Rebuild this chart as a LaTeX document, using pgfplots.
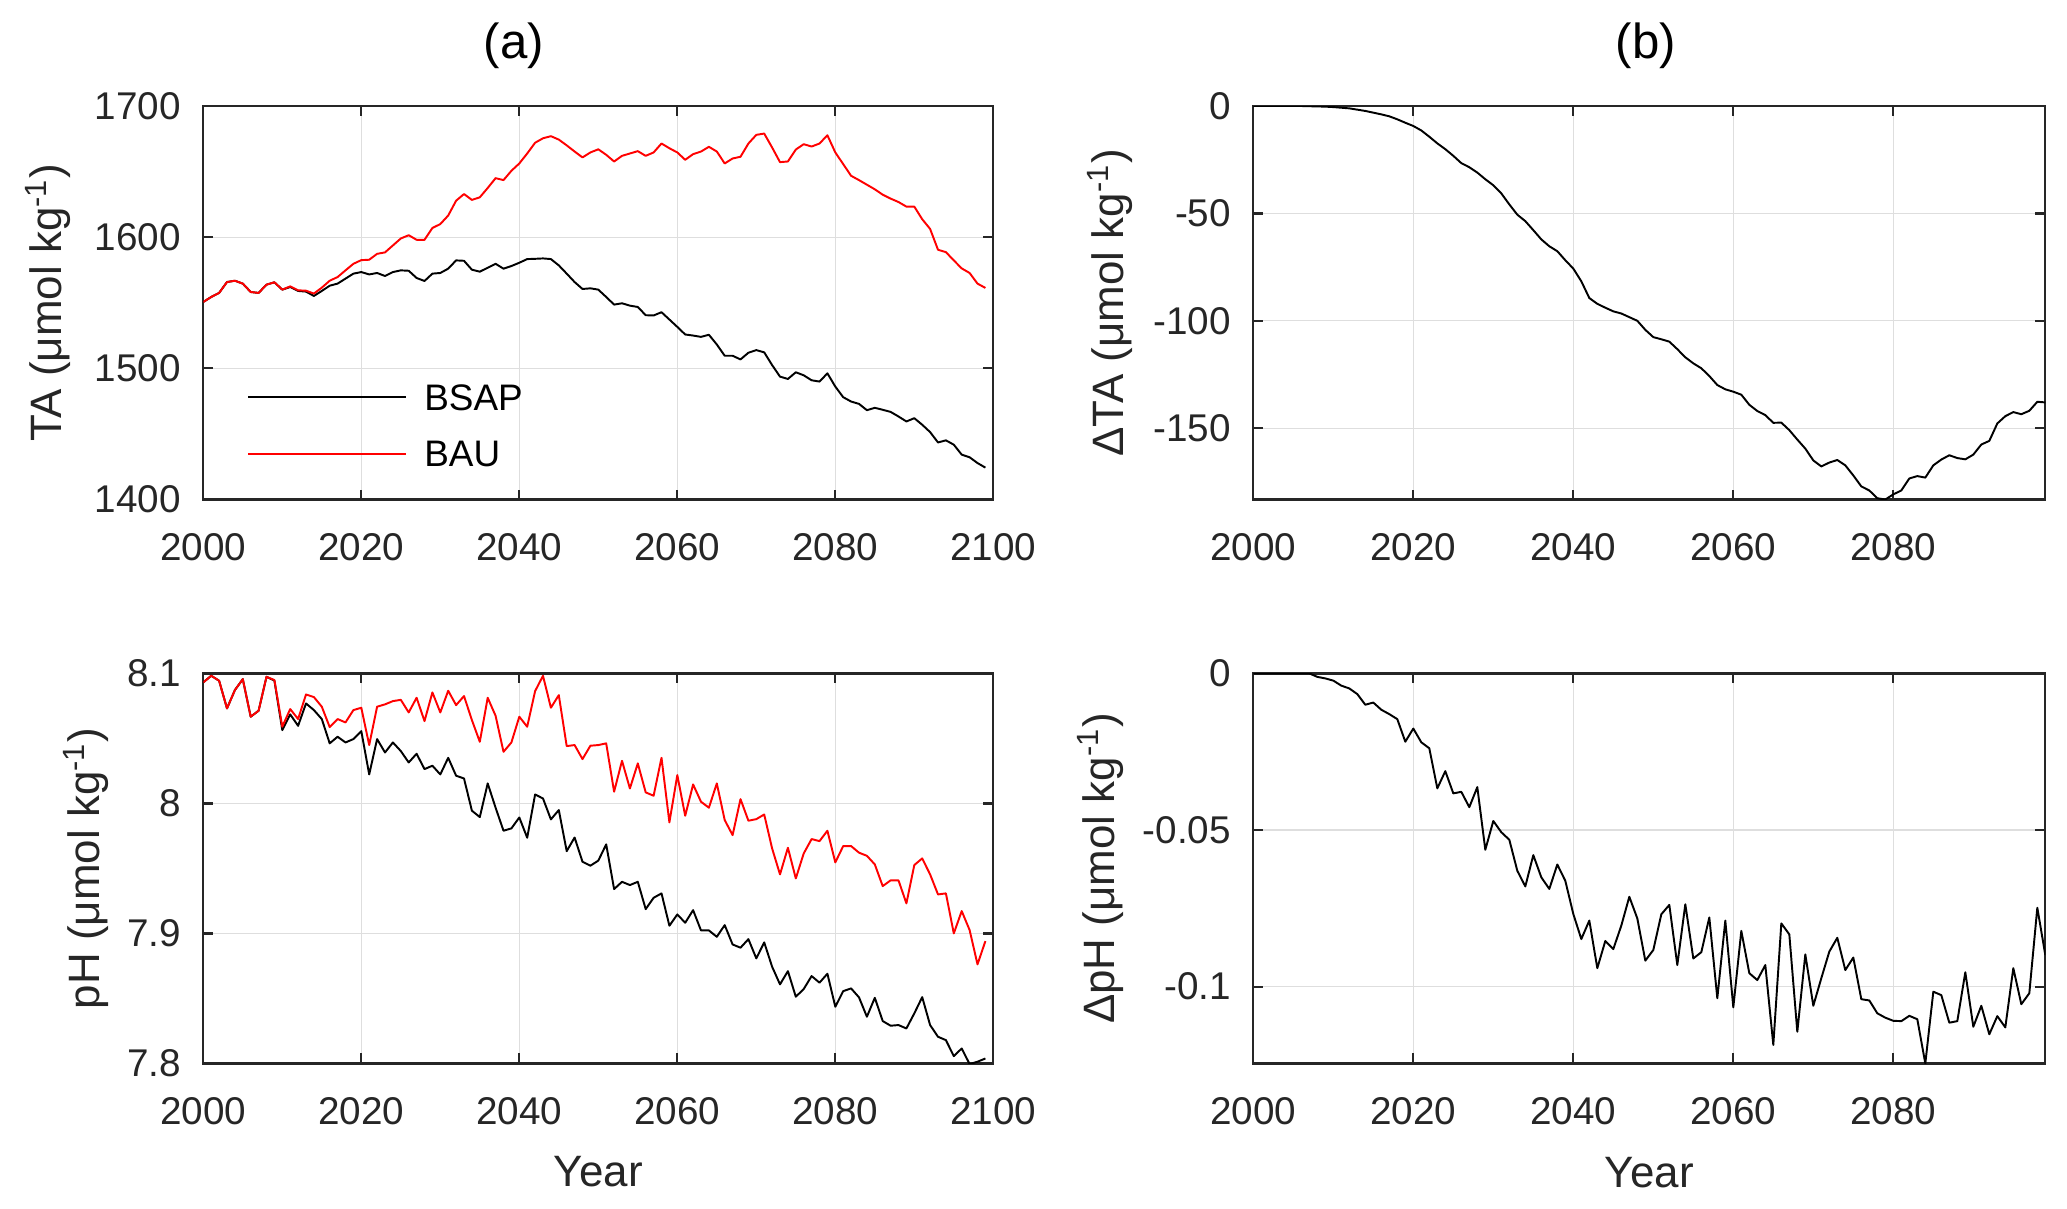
\documentclass[border=0pt]{standalone}
\usepackage{fontspec}
\setmainfont{Liberation Sans}
\usepackage{pgfplots}
\pgfplotsset{compat=1.18}

\definecolor{axgray}{RGB}{38,38,38}
\definecolor{gridgray}{RGB}{222,222,222}

\pgfplotsset{
  panel/.style={
    scale only axis,
    anchor=south west,
    xmin=2000,
    axis line style={axgray, line width=0.65pt},
    tick style={axgray, line width=0.65pt},
    major tick length=0.1cm,
    tick align=inside,
    grid=major,
    major grid style={gridgray, line width=0.35pt},
    tick label style={font=\fontsize{11}{13}\selectfont, color=axgray},
    label style={font=\fontsize{12.5}{15}\selectfont, color=axgray},
    xticklabel style={yshift=-0.215cm},
    yticklabel style={xshift=-0.1cm},
    title style={font=\fontsize{14}{17}\selectfont, anchor=base, yshift=-6pt},
    every axis plot/.append style={line width=0.55pt, line join=round},
  },
}

\begin{document}
\begin{tikzpicture}
\path[use as bounding box] (0,0) rectangle (20.67,12.08);

% (a) top: TA
\begin{axis}[panel, at={(2.033cm,7.085cm)}, width=7.90cm, height=3.935cm,
  xmax=2100, ymin=1400, ymax=1700,
  xtick={2000,2020,2040,2060,2080,2100},
  xticklabels={2000,2020,2040,2060,2080,2100},
  ytick={1400,1500,1600,1700},
  yticklabels={1400,1500,1600,1700},
  ylabel={TA (μmol kg\textsuperscript{-1})},
  ylabel style={at={(axis description cs:-0.1789,0.5)}, anchor=base},
  title={(a)},
  title style={at={(axis description cs:0.3933,1.1202)}},
  legend cell align=left,
  legend image code/.code={\draw[#1] (0cm,0cm) -- (1.58cm,0cm);},
  legend style={draw=none, fill=none, inner sep=0pt,
    at={(axis description cs:0.0549,0.296)}, anchor=north west,
    font=\fontsize{10.5}{12}\selectfont, row sep=0.302cm,
    nodes={inner sep=0pt, text height=0.264cm, text depth=0pt},
    /tikz/every odd column/.append style={column sep=0.17cm}},
]
\addplot[black] coordinates {
(2000,1550.6) (2001,1554.4) (2002,1557.5) (2003,1565.8) (2004,1566.8)
(2005,1564.6) (2006,1558.2) (2007,1557.5) (2008,1563.8) (2009,1565.6)
(2010,1560.0) (2011,1562.0) (2012,1559.0) (2013,1558.5) (2014,1555.2)
(2015,1559.0) (2016,1563.0) (2017,1564.6) (2018,1568.4) (2019,1572.2)
(2020,1573.4) (2021,1571.6) (2022,1572.7) (2023,1570.4) (2024,1573.4)
(2025,1574.7) (2026,1574.4) (2027,1568.9) (2028,1566.6) (2029,1572.2)
(2030,1572.7) (2031,1576.0) (2032,1582.3) (2033,1582.0) (2034,1575.2)
(2035,1573.7) (2036,1576.7) (2037,1579.7) (2038,1576.0) (2039,1578.0)
(2040,1580.5) (2041,1583.3) (2042,1583.5) (2043,1583.8) (2044,1583.3)
(2045,1578.5) (2046,1572.2) (2047,1565.8) (2048,1560.5) (2049,1561.0)
(2050,1560.0) (2051,1554.4) (2052,1548.6) (2053,1549.6) (2054,1547.8)
(2055,1546.8) (2056,1540.5) (2057,1540.3) (2058,1542.8) (2059,1537.2)
(2060,1531.6) (2061,1525.8) (2062,1525.0) (2063,1524.0) (2064,1525.6)
(2065,1518.2) (2066,1509.6) (2067,1509.6) (2068,1506.8) (2069,1511.9)
(2070,1513.9) (2071,1512.2) (2072,1502.5) (2073,1493.7) (2074,1491.9)
(2075,1497.0) (2076,1494.7) (2077,1490.9) (2078,1489.9) (2079,1496.2)
(2080,1486.1) (2081,1478.0) (2082,1474.7) (2083,1472.9) (2084,1468.1)
(2085,1469.9) (2086,1468.4) (2087,1466.8) (2088,1463.3) (2089,1459.5)
(2090,1462.0) (2091,1457.0) (2092,1451.4) (2093,1443.5) (2094,1445.1)
(2095,1441.8) (2096,1434.2) (2097,1432.2) (2098,1427.8) (2099,1424.3)
};
\addlegendentry{BSAP}
\addplot[red] coordinates {
(2000,1550.6) (2001,1554.4) (2002,1557.5) (2003,1565.8) (2004,1566.8)
(2005,1564.6) (2006,1558.2) (2007,1557.5) (2008,1563.8) (2009,1565.6)
(2010,1560.0) (2011,1562.5) (2012,1559.5) (2013,1559.2) (2014,1557.0)
(2015,1561.5) (2016,1566.8) (2017,1569.6) (2018,1574.7) (2019,1579.7)
(2020,1582.5) (2021,1582.8) (2022,1587.3) (2023,1588.4) (2024,1593.7)
(2025,1599.0) (2026,1601.5) (2027,1598.0) (2028,1598.0) (2029,1607.0)
(2030,1610.0) (2031,1616.5) (2032,1627.8) (2033,1632.9) (2034,1628.4)
(2035,1630.4) (2036,1637.5) (2037,1645.0) (2038,1643.5) (2039,1650.6)
(2040,1656.2) (2041,1663.8) (2042,1672.0) (2043,1675.4) (2044,1677.0)
(2045,1674.4) (2046,1670.0) (2047,1665.3) (2048,1660.8) (2049,1664.6)
(2050,1667.0) (2051,1662.8) (2052,1657.7) (2053,1662.0) (2054,1663.8)
(2055,1665.6) (2056,1662.0) (2057,1664.6) (2058,1671.4) (2059,1667.8)
(2060,1664.6) (2061,1659.0) (2062,1663.3) (2063,1665.3) (2064,1668.9)
(2065,1665.3) (2066,1656.2) (2067,1660.0) (2068,1661.3) (2069,1671.4)
(2070,1678.0) (2071,1679.0) (2072,1668.4) (2073,1657.2) (2074,1657.7)
(2075,1666.8) (2076,1670.9) (2077,1669.1) (2078,1671.4) (2079,1677.7)
(2080,1664.6) (2081,1655.7) (2082,1646.8) (2083,1643.5) (2084,1640.0)
(2085,1636.5) (2086,1632.4) (2087,1629.4) (2088,1626.8) (2089,1623.3)
(2090,1623.3) (2091,1613.7) (2092,1606.3) (2093,1590.4) (2094,1588.6)
(2095,1582.3) (2096,1576.2) (2097,1572.7) (2098,1564.6) (2099,1561.3)
};
\addlegendentry{BAU}
\end{axis}

% (b) top: Delta TA
\begin{axis}[panel, at={(12.533cm,7.085cm)}, width=7.92cm, height=3.935cm,
  xmax=2099, ymin=-183.2, ymax=0,
  xtick={2000,2020,2040,2060,2080},
  xticklabels={2000,2020,2040,2060,2080},
  ytick={-150,-100,-50,0},
  yticklabels={-150,-100,-50,0},
  ylabel={ΔTA (μmol kg\textsuperscript{-1})},
  ylabel style={at={(axis description cs:-0.1633,0.5)}, anchor=base},
  title={(b)},
  title style={at={(axis description cs:0.4958,1.1202)}},
]
\addplot[black] coordinates {
(2000,0) (2001,0) (2002,0) (2003,0) (2004,0)
(2005,0) (2006,0) (2007,-0.1) (2008,-0.2) (2009,-0.3)
(2010,-0.5) (2011,-0.8) (2012,-1.1) (2013,-1.7) (2014,-2.3)
(2015,-3.1) (2016,-3.9) (2017,-4.8) (2018,-6.2) (2019,-7.8)
(2020,-9.3) (2021,-11.4) (2022,-14.3) (2023,-17.4) (2024,-20.1)
(2025,-23.2) (2026,-26.6) (2027,-28.5) (2028,-31.0) (2029,-34.1)
(2030,-36.9) (2031,-40.7) (2032,-45.8) (2033,-50.6) (2034,-53.6)
(2035,-57.8) (2036,-62.1) (2037,-65.3) (2038,-67.6) (2039,-71.8)
(2040,-75.7) (2041,-81.6) (2042,-89.4) (2043,-92.1) (2044,-93.9)
(2045,-95.6) (2046,-96.6) (2047,-98.3) (2048,-100.0) (2049,-104.2)
(2050,-107.6) (2051,-108.6) (2052,-109.7) (2053,-113.2) (2054,-117.0)
(2055,-119.8) (2056,-122.1) (2057,-125.7) (2058,-129.9) (2059,-131.9)
(2060,-133.0) (2061,-134.4) (2062,-139.1) (2063,-142.0) (2064,-143.9)
(2065,-147.5) (2066,-147.4) (2067,-150.9) (2068,-155.3) (2069,-159.5)
(2070,-165.0) (2071,-167.8) (2072,-166.0) (2073,-164.8) (2074,-167.3)
(2075,-172.0) (2076,-177.1) (2077,-179.0) (2078,-182.6) (2079,-183.2)
(2080,-180.8) (2081,-179.0) (2082,-173.4) (2083,-172.3) (2084,-173.0)
(2085,-167.3) (2086,-164.6) (2087,-162.6) (2088,-163.9) (2089,-164.5)
(2090,-162.3) (2091,-157.6) (2092,-155.9) (2093,-147.8) (2094,-144.4)
(2095,-142.5) (2096,-143.5) (2097,-141.9) (2098,-137.7) (2099,-138.0)
};
\end{axis}

% (a) bottom: pH
\begin{axis}[panel, at={(2.033cm,1.446cm)}, width=7.90cm, height=3.90cm,
  xmax=2100, ymin=7.8, ymax=8.1,
  xtick={2000,2020,2040,2060,2080,2100},
  xticklabels={2000,2020,2040,2060,2080,2100},
  ytick={7.8,7.9,8,8.1},
  yticklabels={7.8,7.9,8,8.1},
  ylabel={pH (μmol kg\textsuperscript{-1})},
  ylabel style={at={(axis description cs:-0.1308,0.5)}, anchor=base},
  xlabel={Year},
  xlabel style={at={(axis description cs:0.5,-0.3144)}, anchor=base},
]
\addplot[black] coordinates {
(2000,8.0931) (2001,8.0982) (2002,8.0944) (2003,8.0731) (2004,8.0872)
(2005,8.0956) (2006,8.0667) (2007,8.0713) (2008,8.0974) (2009,8.0945)
(2010,8.0564) (2011,8.0685) (2012,8.0597) (2013,8.0769) (2014,8.0718)
(2015,8.0649) (2016,8.0462) (2017,8.0513) (2018,8.0469) (2019,8.0495)
(2020,8.0556) (2021,8.0223) (2022,8.0495) (2023,8.0392) (2024,8.0469)
(2025,8.0403) (2026,8.0315) (2027,8.0382) (2028,8.0264) (2029,8.0290)
(2030,8.0223) (2031,8.0351) (2032,8.0213) (2033,8.0192) (2034,7.9944)
(2035,7.9895) (2036,8.0154) (2037,7.9967) (2038,7.9790) (2039,7.9808)
(2040,7.9892) (2041,7.9736) (2042,8.0069) (2043,8.0038) (2044,7.9877)
(2045,7.9949) (2046,7.9633) (2047,7.9738) (2048,7.9551) (2049,7.9521)
(2050,7.9560) (2051,7.9685) (2052,7.9341) (2053,7.9397) (2054,7.9372)
(2055,7.9397) (2056,7.9187) (2057,7.9274) (2058,7.9308) (2059,7.9059)
(2060,7.9146) (2061,7.9082) (2062,7.9179) (2063,7.9023) (2064,7.9023)
(2065,7.8974) (2066,7.9064) (2067,7.8915) (2068,7.8890) (2069,7.8956)
(2070,7.8808) (2071,7.8931) (2072,7.8744) (2073,7.8608) (2074,7.8710)
(2075,7.8513) (2076,7.8572) (2077,7.8672) (2078,7.8621) (2079,7.8690)
(2080,7.8436) (2081,7.8556) (2082,7.8577) (2083,7.8508) (2084,7.8359)
(2085,7.8505) (2086,7.8326) (2087,7.8290) (2088,7.8295) (2089,7.8269)
(2090,7.8385) (2091,7.8510) (2092,7.8295) (2093,7.8205) (2094,7.8179)
(2095,7.8056) (2096,7.8115) (2097,7.7995) (2098,7.8013) (2099,7.8038)
};
\addplot[red] coordinates {
(2000,8.0931) (2001,8.0982) (2002,8.0944) (2003,8.0731) (2004,8.0872)
(2005,8.0956) (2006,8.0667) (2007,8.0713) (2008,8.0974) (2009,8.0949)
(2010,8.0590) (2011,8.0726) (2012,8.0649) (2013,8.0838) (2014,8.0818)
(2015,8.0744) (2016,8.0587) (2017,8.0649) (2018,8.0623) (2019,8.0718)
(2020,8.0736) (2021,8.0449) (2022,8.0744) (2023,8.0762) (2024,8.0787)
(2025,8.0797) (2026,8.0700) (2027,8.0813) (2028,8.0633) (2029,8.0854)
(2030,8.0700) (2031,8.0867) (2032,8.0756) (2033,8.0826) (2034,8.0641)
(2035,8.0474) (2036,8.0813) (2037,8.0674) (2038,8.0397) (2039,8.0469)
(2040,8.0667) (2041,8.0590) (2042,8.0864) (2043,8.0982) (2044,8.0736)
(2045,8.0833) (2046,8.0441) (2047,8.0449) (2048,8.0341) (2049,8.0444)
(2050,8.0449) (2051,8.0462) (2052,8.0090) (2053,8.0328) (2054,8.0115)
(2055,8.0308) (2056,8.0085) (2057,8.0059) (2058,8.0351) (2059,7.9854)
(2060,8.0218) (2061,7.9905) (2062,8.0146) (2063,8.0013) (2064,7.9967)
(2065,8.0154) (2066,7.9872) (2067,7.9756) (2068,8.0033) (2069,7.9867)
(2070,7.9879) (2071,7.9915) (2072,7.9654) (2073,7.9454) (2074,7.9659)
(2075,7.9423) (2076,7.9615) (2077,7.9726) (2078,7.9710) (2079,7.9790)
(2080,7.9546) (2081,7.9672) (2082,7.9672) (2083,7.9621) (2084,7.9597)
(2085,7.9531) (2086,7.9364) (2087,7.9408) (2088,7.9408) (2089,7.9231)
(2090,7.9526) (2091,7.9577) (2092,7.9454) (2093,7.9300) (2094,7.9308)
(2095,7.9000) (2096,7.9172) (2097,7.9026) (2098,7.8762) (2099,7.8941)
};
\end{axis}

% (b) bottom: Delta pH
\begin{axis}[panel, at={(12.533cm,1.446cm)}, width=7.92cm, height=3.90cm,
  xmax=2099, ymin=-0.1245, ymax=0,
  xtick={2000,2020,2040,2060,2080},
  xticklabels={2000,2020,2040,2060,2080},
  ytick={-0.1,-0.05,0},
  yticklabels={-0.1,-0.05,0},
  ylabel={ΔpH (μmol kg\textsuperscript{-1})},
  ylabel style={at={(axis description cs:-0.1759,0.5)}, anchor=base},
  xlabel={Year},
  xlabel style={at={(axis description cs:0.5,-0.3169)}, anchor=base},
]
\addplot[black] coordinates {
(2000,0) (2001,0) (2002,0) (2003,0) (2004,0)
(2005,0) (2006,0) (2007,0) (2008,-0.0011) (2009,-0.0016)
(2010,-0.0023) (2011,-0.0039) (2012,-0.0048) (2013,-0.0066) (2014,-0.0100)
(2015,-0.0093) (2016,-0.0116) (2017,-0.0130) (2018,-0.0146) (2019,-0.0218)
(2020,-0.0176) (2021,-0.0220) (2022,-0.0239) (2023,-0.0367) (2024,-0.0312)
(2025,-0.0383) (2026,-0.0378) (2027,-0.0427) (2028,-0.0363) (2029,-0.0563)
(2030,-0.0471) (2031,-0.0507) (2032,-0.0531) (2033,-0.0630) (2034,-0.0680)
(2035,-0.0580) (2036,-0.0651) (2037,-0.0688) (2038,-0.0610) (2039,-0.0662)
(2040,-0.0768) (2041,-0.0848) (2042,-0.0789) (2043,-0.0941) (2044,-0.0854)
(2045,-0.0880) (2046,-0.0805) (2047,-0.0713) (2048,-0.0782) (2049,-0.0917)
(2050,-0.0883) (2051,-0.0769) (2052,-0.0739) (2053,-0.0931) (2054,-0.0737)
(2055,-0.0910) (2056,-0.0890) (2057,-0.0779) (2058,-0.1037) (2059,-0.0789)
(2060,-0.1066) (2061,-0.0822) (2062,-0.0957) (2063,-0.0979) (2064,-0.0931)
(2065,-0.1186) (2066,-0.0798) (2067,-0.0833) (2068,-0.1144) (2069,-0.0897)
(2070,-0.1061) (2071,-0.0973) (2072,-0.0888) (2073,-0.0844) (2074,-0.0947)
(2075,-0.0907) (2076,-0.1040) (2077,-0.1044) (2078,-0.1085) (2079,-0.1099)
(2080,-0.1109) (2081,-0.1110) (2082,-0.1093) (2083,-0.1104) (2084,-0.1245)
(2085,-0.1016) (2086,-0.1027) (2087,-0.1115) (2088,-0.1110) (2089,-0.0954)
(2090,-0.1128) (2091,-0.1061) (2092,-0.1152) (2093,-0.1094) (2094,-0.1130)
(2095,-0.0941) (2096,-0.1056) (2097,-0.1021) (2098,-0.0748) (2099,-0.0899)
};
\end{axis}
\end{tikzpicture}
\end{document}
